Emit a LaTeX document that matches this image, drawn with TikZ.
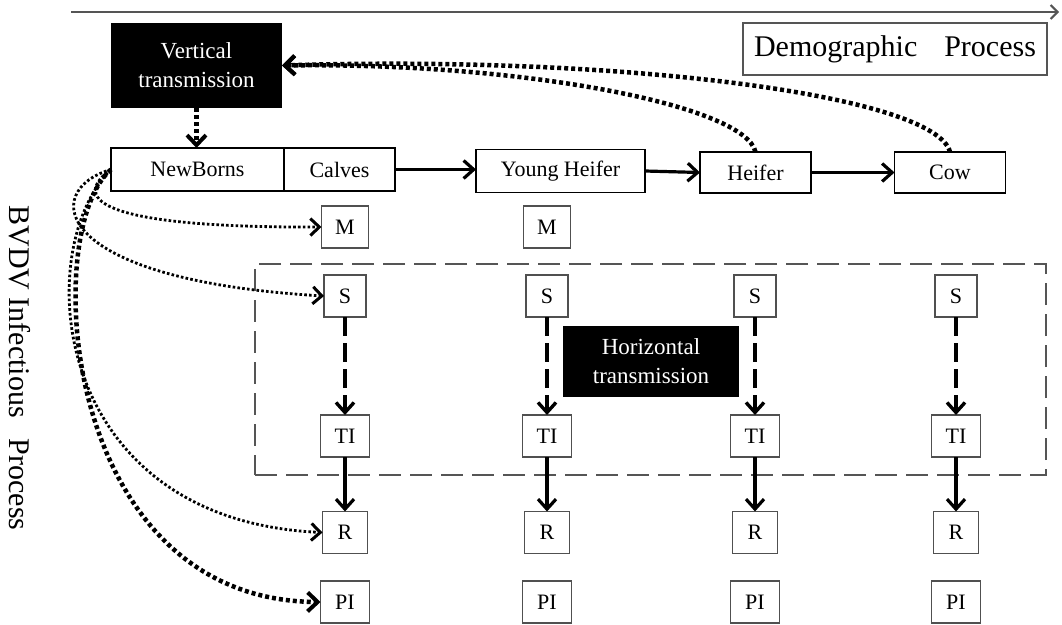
\documentclass[tikz,border=0pt]{standalone}
\usepackage{fontspec}
\setmainfont{Liberation Serif}
\usetikzlibrary{arrows.meta}
\definecolor{boxgray}{HTML}{505050}
\definecolor{linegray}{HTML}{555555}
\begin{document}
\begin{tikzpicture}[x=1pt,y=-1pt,
  every node/.style={inner sep=0pt, outer sep=0pt},
  toprow/.style={draw=black, line width=1.8pt, minimum height=43pt, font=\fontsize{22}{26}\selectfont},
  small/.style={draw=boxgray, line width=1.8pt, minimum height=42pt, font=\fontsize{22}{26}\selectfont},
  blackbox/.style={fill=black, text=white, align=center, font=\fontsize{23}{29}\selectfont},
  bigtext/.style={font=\fontsize{30}{34}\selectfont},
  solarr/.style={draw=black, line width=3.2pt, -{Straight Barb[length=10pt,width=18pt,line width=3.2pt]}},
  dasharr/.style={draw=black, line width=3.8pt, dash pattern=on 19pt off 7pt, -{Straight Barb[length=10pt,width=18pt,line width=3.4pt]}},
  thickdot/.style={draw=black, line width=4.5pt, dash pattern=on 4pt off 3pt, -{Straight Barb[length=10pt,width=19pt,line width=4pt]}},
  thindot/.style={draw=black, line width=2.8pt, dash pattern=on 2.6pt off 2.2pt, -{Straight Barb[length=9pt,width=17pt,line width=3pt]}},
  ]
\useasboundingbox (0,0) rectangle (1062,624);

% top timeline arrow
\coordinate (ta1) at (71,12);
\coordinate (ta2) at (1059,12);
\draw[linegray, line width=2.8pt, -{Straight Barb[length=7pt,width=14pt,line width=2pt]}] (ta1) -- (ta2);

% legend boxes
\node[draw=linegray, line width=1.8pt, minimum width=304pt, minimum height=52pt, bigtext] (demo) at (895,49) {Demographic\hspace{0.9em}Process};
\node[rotate=-90, bigtext] (bvdv) at (20,368) {BVDV Infectious\hspace{0.7em}Process};

% black label boxes
\node[blackbox, minimum width=171pt, minimum height=85pt] (VT) at (196.5,65.5) {Vertical\\transmission};
\node[blackbox, minimum width=176pt, minimum height=71pt] (HT) at (651,361.5) {Horizontal\\transmission};

% demographic stages
\node[toprow, minimum width=173pt] (NB) at (197.5,169.5) {NewBorns};
\node[toprow, minimum width=111pt] (Calves) at (339.5,169.5) {Calves};
\node[toprow, minimum width=169pt] (YH) at (560.5,171) {Young Heifer};
\node[toprow, minimum width=111pt, minimum height=41pt] (Heifer) at (755.5,172.5) {Heifer};
\node[toprow, minimum width=111pt, minimum height=41pt] (Cow) at (950,172.5) {Cow};

\draw[solarr] (Calves.east) -- (Calves.east -| YH.west);
\draw[solarr] (YH.east) -- (Heifer.west);
\draw[solarr] (Heifer.east) -- (Cow.west);

% horizontal transmission frame
\node[draw=linegray, line width=2.4pt, dash pattern=on 22pt off 9pt, minimum width=791pt, minimum height=211pt] (frame) at (650.5,369.5) {};

% maternal boxes
\node[small, minimum width=47pt] (M1) at (345,227) {M};
\node[small, minimum width=47pt] (M2) at (547,227) {M};

% infection compartments
\foreach \i/\x in {1/345,2/547,3/755,4/956} {
  \node[small, minimum width=42pt] (S\i) at (\x,296) {S};
  \node[small, minimum width=49pt] (T\i) at (\x,436) {TI};
  \node[small, minimum width=45pt] (R\i) at (\x,532.5) {R};
  \node[small, minimum width=49pt] (P\i) at (\x,602) {PI};
  \draw[dasharr] (S\i) -- (T\i);
  \draw[solarr] (T\i) -- (R\i);
}

% vertical transmission links
\draw[thickdot] (VT.south) -- (VT.south |- NB.north);
\draw[thickdot] (Heifer.north) .. controls (745,105) and (520,62) .. (VT.east);
\draw[thickdot] (Cow.north) .. controls (935,95) and (620,55) .. (VT.east);

% newborn outcomes
\draw[thindot] (NB.west) .. controls (75,195) and (85,228) .. (M1.west);
\draw[thindot] (NB.west) .. controls (40,190) and (50,280) .. (S1.west);
\draw[thindot] (NB.west) .. controls (30,250) and (50,520) .. (R1.west);
\draw[thickdot] (NB.west) .. controls (40,230) and (60,600) .. (P1.west);
\end{tikzpicture}
\end{document}
